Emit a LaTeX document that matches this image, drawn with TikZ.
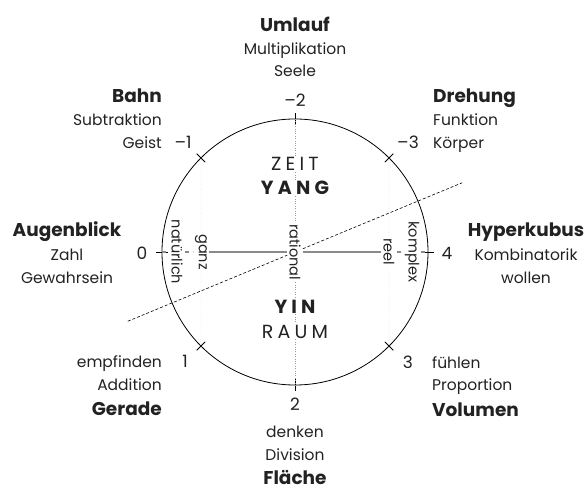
\documentclass[tikz,border=0pt]{standalone}
\usepackage{fontspec}
\setmainfont{Poppins}
\newfontfamily\widefont[LetterSpace=22]{Poppins}

\definecolor{ink}{HTML}{222222}
\definecolor{axis}{HTML}{8A8A8A}
\definecolor{guide}{HTML}{9A9A9A}

\tikzset{
	word/.style={text=ink, inner sep=0pt, font=\fontsize{15.5}{17}\selectfont},
	title/.style={text=ink, inner sep=0pt, font=\bfseries\fontsize{18.5}{20}\selectfont},
	numeral/.style={text=ink, inner sep=0pt, font=\fontsize{17}{19}\selectfont},
	pole/.style={text=ink, inner sep=1pt, font=\widefont\fontsize{19}{21}\selectfont},
	upright/.style={text=ink, rotate=-90, inner sep=2pt, font=\fontsize{14.5}{16}\selectfont},
}

\begin{document}
\begin{tikzpicture}[x=1pt, y=1pt]
	\useasboundingbox (-295,-237) rectangle (293,252);
	
	% wheel
	\draw[line width=0.8pt] (0,0) circle [radius=133];
	\foreach \a in {0,45,...,315}
		\draw[line width=0.8pt] (\a:127) -- (\a:139);
	\coordinate (t0)   at (180:133);
	\coordinate (t4)   at (0:133);
	\coordinate (tm2)  at (90:133);
	\coordinate (t2)   at (270:133);
	\coordinate (tm1)  at (135:133);
	\coordinate (t1)   at (225:133);
	\coordinate (tm3)  at (45:133);
	\coordinate (t3)   at (315:133);
	\coordinate (d1)   at (202.5:181);
	\coordinate (d2)   at (22.5:181);
	
	% inside
	\node[pole] (zeit) at (0,81)  [anchor=base] {ZEIT};
	\node[pole] (yang) at (0,57)  [anchor=base] {\bfseries YANG};
	\node[pole] (yin)  at (0,-61) [anchor=base] {\bfseries YIN};
	\node[pole] (raum) at (0,-86) [anchor=base] {RAUM};
	\node[upright] (natuerlich) at (-118,0) {natürlich};
	\node[upright] (ganz)       at (-94,0)  {ganz};
	\node[upright] (rational)   at (0,0)    {rational};
	\node[upright] (reel)       at (94,0)   {reel};
	\node[upright] (komplex)    at (117,0)  {komplex};
	
	\draw[guide, dotted] (tm2) -- (zeit) -- (yang) -- (rational) -- (yin) -- (raum) -- (t2);
	\draw[guide, dotted] (tm1) -- (ganz) -- (t1);
	\draw[guide, dotted] (tm3) -- (reel) -- (t3);
	\draw[axis, line width=1.2pt, dash pattern=on 4pt off 4pt] (t0) -- (natuerlich) -- (ganz);
	\draw[axis, line width=1.6pt] (ganz) -- (rational) -- (reel);
	\draw[axis, line width=1.2pt, dash pattern=on 4pt off 4pt] (reel) -- (komplex) -- (t4);
	\draw[line width=0.6pt, dash pattern=on 3pt off 2pt] (d1) -- (rational) -- (d2);
	
	% top
	\node[title]   (umlauf) at (0,220)  [anchor=base] {Umlauf};
	\node[word]    (mult)   at (0,197)  [anchor=base] {Multiplikation};
	\node[word]    (seele)  at (0,175)  [anchor=base] {Seele};
	\node[numeral] (nm2)    at (0,145)  [anchor=base] {–2};
	
	% upper left
	\node[title]   (bahn)   at (-133,149) [anchor=base east] {Bahn};
	\node[word]    (subtr)  at (-133,126) [anchor=base east] {Subtraktion};
	\node[word]    (geist)  at (-133,103) [anchor=base east] {Geist};
	\node[numeral] (nm1)    at (-112,103) [anchor=base] {–1};
	
	% upper right
	\node[title]   (drehung) at (138,149) [anchor=base west] {Drehung};
	\node[word]    (funkt)   at (138,126) [anchor=base west] {Funktion};
	\node[word]    (koerper) at (138,103) [anchor=base west] {Körper};
	\node[numeral] (nm3)     at (113,103) [anchor=base] {–3};
	
	% left
	\node[title]   (augen)  at (-228,15)  [anchor=base] {Augenblick};
	\node[word]    (zahl)   at (-228,-9)  [anchor=base] {Zahl};
	\node[word]    (gewahr) at (-228,-32) [anchor=base] {Gewahrsein};
	\node[numeral] (n0)     at (-153,-8)  [anchor=base] {0};
	
	% right
	\node[title]   (hyper)  at (231,15)  [anchor=base] {Hyperkubus};
	\node[word]    (kombi)  at (231,-9)  [anchor=base] {Kombinatorik};
	\node[word]    (wollen) at (231,-32) [anchor=base] {wollen};
	\node[numeral] (n4)     at (152,-8)  [anchor=base] {4};
	
	% lower left
	\node[word]    (empf)   at (-133,-115) [anchor=base east] {empfinden};
	\node[word]    (addit)  at (-133,-138) [anchor=base east] {Addition};
	\node[title]   (gerade) at (-133,-163) [anchor=base east] {Gerade};
	\node[numeral] (n1)     at (-110,-115) [anchor=base] {1};
	
	% lower right
	\node[word]    (fuehl)  at (137,-116) [anchor=base west] {fühlen};
	\node[word]    (propo)  at (137,-138) [anchor=base west] {Proportion};
	\node[title]   (volum)  at (137,-164) [anchor=base west] {Volumen};
	\node[numeral] (n3)     at (113,-116) [anchor=base] {3};
	
	% bottom
	\node[numeral] (n2)     at (0,-158) [anchor=base] {2};
	\node[word]    (denken) at (0,-185) [anchor=base] {denken};
	\node[word]    (divis)  at (0,-208) [anchor=base] {Division};
	\node[title]   (flaeche) at (0,-232) [anchor=base] {Fläche};
	
\end{tikzpicture}
\end{document}
